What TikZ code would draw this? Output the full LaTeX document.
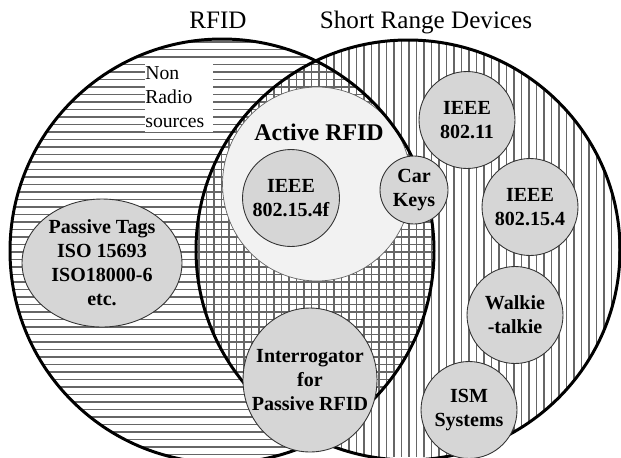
\documentclass[tikz,border=0pt]{standalone}
\usepackage{fontspec}
\setmainfont{Liberation Serif}
\usetikzlibrary{shapes.geometric}
\definecolor{cdisk}{HTML}{D6D6D6}
\definecolor{cactive}{HTML}{F2F2F2}
\definecolor{chatch}{HTML}{666666}

\begin{document}
\begin{tikzpicture}[x=0.02cm, y=-0.02cm,
  setline/.style={
    draw=black, line width=1.7pt
  },
  hatchline/.style={
    draw=chatch, line width=1.05pt
  },
  devdisk/.style={
    ellipse, draw=black!80, fill=cdisk, line width=0.5pt,
    inner sep=0pt
  },
  devlabel/.style={
    align=center, inner sep=0pt,
    font=\fontsize{11.4}{13.6}\selectfont\bfseries
  },
  titlelabel/.style={
    anchor=base, inner sep=0pt,
    font=\fontsize{14.3}{16}\selectfont
  }
]
\useasboundingbox (0,0) rectangle (621,457);

% ============================================================
% Set centres
% ============================================================
\coordinate (rfidc) at (222,251);
\coordinate (srdc) at (408,250);

% ============================================================
% Hatching: horizontal in RFID, vertical in SRD
% ============================================================
\begin{scope}
  \clip (rfidc) circle[radius=212];
  \foreach \yy in {42,49.5,...,464} {
    \draw[hatchline] (0,\yy) -- (621,\yy);
  }
\end{scope}
\begin{scope}
  \clip (srdc) ellipse (212 and 210);
  \foreach \xx in {199,206.5,...,621} {
    \draw[hatchline] (\xx,0) -- (\xx,457);
  }
\end{scope}

% Active RFID disk
\node[ellipse, draw=black!60, fill=cactive, line width=0.4pt, inner sep=0pt,
      minimum width=3.78cm, minimum height=3.88cm] (active) at (317,184) {};
\node[anchor=base, inner sep=0pt, font=\fontsize{13.6}{16}\selectfont\bfseries]
  (activelbl) at (319,140) {Active RFID};

% Non radio sources box
\node[anchor=north west, fill=white, inner sep=0pt, align=left,
      text width=1.36cm, minimum height=1.4cm,
      font=\fontsize{11.2}{13.6}\selectfont] (nonradio) at (145,62)
  {Non\\Radio\\sources};

% ============================================================
% Set outlines and titles
% ============================================================
\draw[setline] (rfidc) circle[radius=212];
\draw[setline] (srdc) ellipse (212 and 210);

\node[titlelabel] (rfidtitle) at (218,28) {RFID};
\node[titlelabel] (srdtitle) at (426,28) {Short Range Devices};

% ============================================================
% Device disks
% ============================================================
\node[devdisk, minimum width=3.2cm, minimum height=2.56cm] (ptags) at (102,263) {};
\node[devlabel] (ptagslbl) at (ptags) {Passive Tags\\ISO 15693\\ISO18000-6\\etc.};

\node[devdisk, minimum width=1.94cm, minimum height=1.94cm] (f154) at (291,198) {};
\node[devlabel] (f154lbl) at (f154) {IEEE\\802.15.4f};

\node[devdisk, minimum width=1.36cm, minimum height=1.36cm] (carkeys) at (414,190) {};
\node[devlabel] (carkeyslbl) at (carkeys) {Car\\Keys};

\node[devdisk, minimum width=2.68cm, minimum height=2.88cm] (interr) at (310,380) {};
\node[devlabel] (interrlbl) at (interr) {Interrogator\\for\\Passive RFID};

\foreach \nm/\xp/\yp/\txt in {ieee11/467/120/{IEEE\\802.11},
    ieee154/530/207/{IEEE\\802.15.4}, walkie/515/315/{Walkie\\-talkie},
    ism/469/410/{ISM\\Systems}} {
  \node[devdisk, minimum width=1.92cm, minimum height=1.94cm] (\nm) at (\xp,\yp) {};
  \node[devlabel] (\nm lbl) at (\nm) {\txt};
}

\end{tikzpicture}
\end{document}
